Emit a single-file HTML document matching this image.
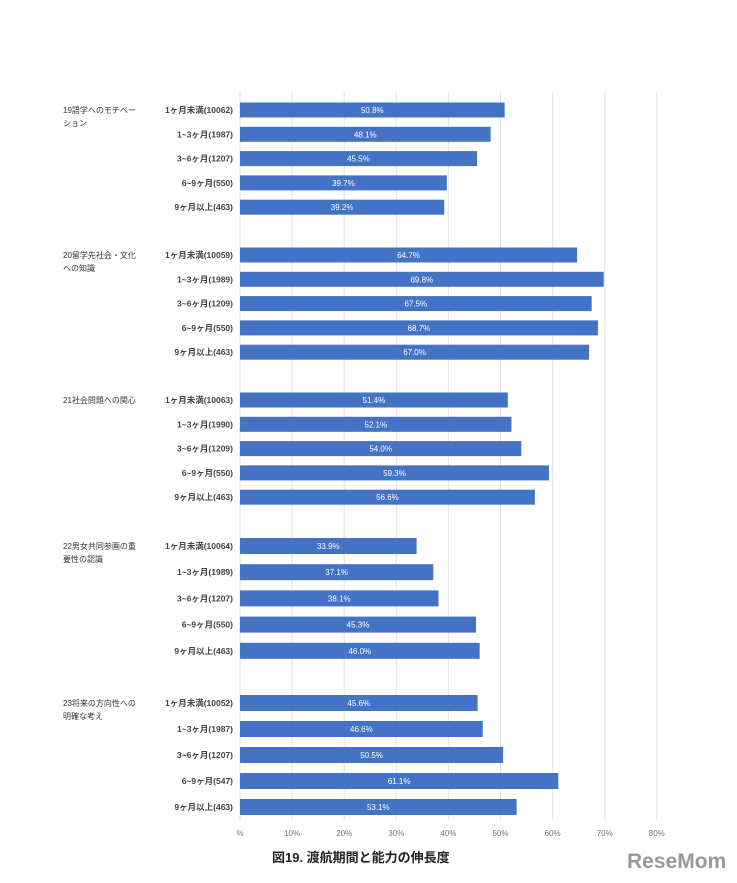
<!DOCTYPE html>
<html><head><meta charset="utf-8"><style>
body{margin:0;background:#fff;}
svg{display:block;font-family:"Liberation Sans","Noto Sans CJK JP",sans-serif;}
</style></head><body>
<svg id="c" width="737" height="883"></svg>
<script>
const groups=["19語学へのモチベー|ション","20留学先社会・文化|への知識","21社会問題への関心","22男女共同参画の重|要性の認識","23将来の方向性への|明確な考え"];
const cats=[
["1ヶ月未満(10062)","1~3ヶ月(1987)","3~6ヶ月(1207)","6~9ヶ月(550)","9ヶ月以上(463)"],
["1ヶ月未満(10059)","1~3ヶ月(1989)","3~6ヶ月(1209)","6~9ヶ月(550)","9ヶ月以上(463)"],
["1ヶ月未満(10063)","1~3ヶ月(1990)","3~6ヶ月(1209)","6~9ヶ月(550)","9ヶ月以上(463)"],
["1ヶ月未満(10064)","1~3ヶ月(1989)","3~6ヶ月(1207)","6~9ヶ月(550)","9ヶ月以上(463)"],
["1ヶ月未満(10052)","1~3ヶ月(1987)","3~6ヶ月(1207)","6~9ヶ月(547)","9ヶ月以上(463)"]];
const values=[[50.8,48.1,45.5,39.7,39.2],[64.7,69.8,67.5,68.7,67.0],[51.4,52.1,54.0,59.3,56.6],[33.9,37.1,38.1,45.3,46.0],[45.6,46.6,50.5,61.1,53.1]];
const ticks=[0,10,20,30,40,50,60,70,80];
const tickLabels=["%","10%","20%","30%","40%","50%","60%","70%","80%"];
const groupTop=[110,255,400,546,703];
const rowStep=[24.3,24.3,24.3,26.2,26];
const NS="http://www.w3.org/2000/svg";
const svg=document.getElementById('c');
const x=v=>240+v*5.21;
function el(t,a,txt){const e=document.createElementNS(NS,t);for(const k in a)e.setAttribute(k,a[k]);if(txt!=null)e.textContent=txt;svg.appendChild(e);return e;}
ticks.forEach((t,i)=>{
 const g=el('line',{x1:x(t),x2:x(t),y1:92,y2:820,stroke:'#e3e3e3','stroke-width':1});
 
 
 const l=el('text',{x:x(t),y:836,'font-size':8,fill:'#777','text-anchor':'middle'},tickLabels[i]);
 
 
});
groups.forEach((g,gi)=>{
 g.split('|').forEach((ln,li)=>{
  const t=el('text',{x:63,y:groupTop[gi]+3+li*13,'font-size':8,fill:'#333'},ln);
  
  
 });
 values[gi].forEach((v,ri)=>{
  const cy=groupTop[gi]+ri*rowStep[gi];
  const h=gi>=3?16:15;
  const r=el('rect',{x:x(0),y:cy-h/2,width:x(v)-x(0),height:h,fill:'#4472c4'});
  
  
  const vt=el('text',{x:(x(0)+x(v))/2,y:cy+3,'font-size':8,fill:'#fff','text-anchor':'middle'},v.toFixed(1)+'%');
  
  
  const ct=el('text',{x:233,y:cy+3,'font-size':8.5,'font-weight':'bold',fill:'#444','text-anchor':'end'},cats[gi][ri]);
  
  
 });
});
const tt=el('text',{x:272,y:862,'font-size':13,'font-weight':'bold',fill:'#222'},'図19.  渡航期間と能力の伸長度');


const lg=el('text',{x:627,y:868,'font-size':21,'font-weight':'bold',fill:'#999'},'ReseMom');


</script>
</body></html>
